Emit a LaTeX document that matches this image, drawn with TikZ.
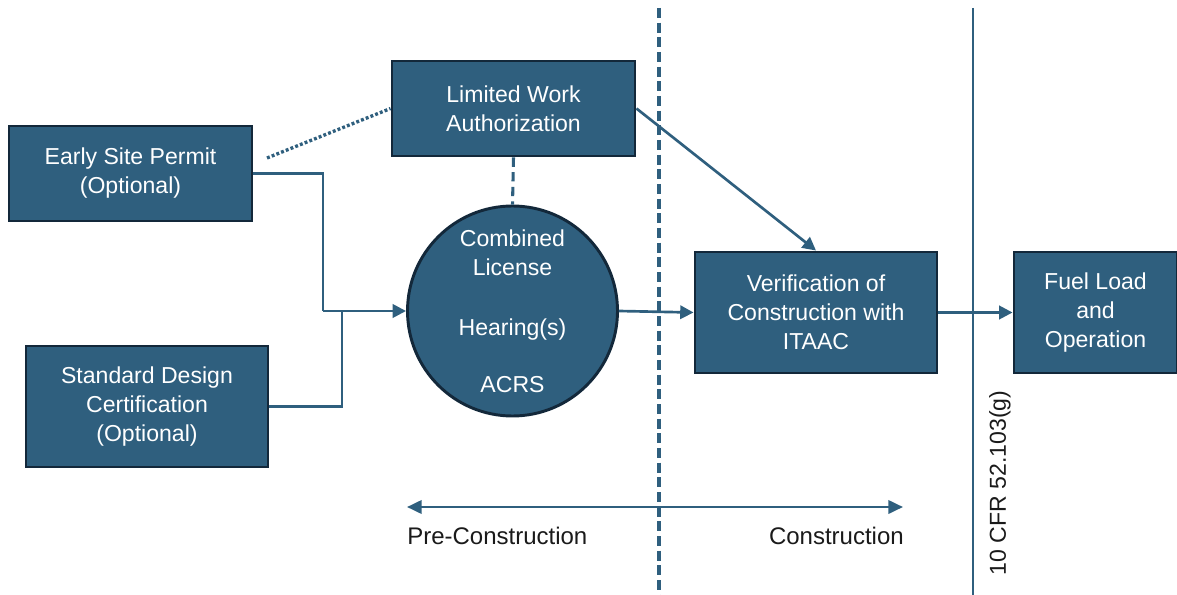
\documentclass[tikz,border=0pt]{standalone}
\usepackage{fontspec}
\setmainfont{Liberation Sans}
\usetikzlibrary{arrows.meta}
\definecolor{boxfill}{HTML}{2F5F7E}
\definecolor{boxline}{HTML}{13283A}
\definecolor{flowcol}{HTML}{2F5F7E}
\definecolor{labcol}{HTML}{1A1A1A}
\begin{document}
\begin{tikzpicture}[x=0.75pt, y=-0.75pt,
		every node/.style={font=\fontsize{17.3}{21.75}\selectfont},
		box/.style={draw=boxline, fill=boxfill, line width=2.2pt, text=white, align=center, inner sep=0pt},
		flow/.style={draw=flowcol, line width=2pt},
		tip/.style={-{Triangle[length=10pt, width=10pt]}}]
		\useasboundingbox (0, 0) rectangle (1177, 595);

		 	\node[box, minimum width=182.25pt, minimum height=71.25pt] (esp) at(130.5, 173.5){Early Site Permit\\(Optional)};
		 	\node[box, minimum width=181.5pt, minimum height=90.75pt] (sdc) at(147, 406.5){Standard Design\\Certification\\(Optional)};
		 	\node[box, minimum width=182.25pt, minimum height=71.25pt] (lwa) at(513.5, 108.5){Limited Work\\Authorization};
		 	\node[box, circle, minimum size=157.5pt] (col) at(512.5, 311){Combined\\License\\[23pt]Hearing(s)\\[21pt]ACRS};
		 	\node[box, minimum width=181.5pt, minimum height=90.75pt] (ver) at(816, 312.5){Verification of\\Construction with\\ITAAC};
		 	\node[box, minimum width=122.25pt, minimum height=90.75pt] (fuel) at(1095.5, 312.5){Fuel Load\\and\\Operation};

			 \draw[flowcol, line width=2.3pt, dash pattern=on 7.5pt off 3.5pt](659, 8) to (659, 595);
			 \draw[flowcol, line width=2.2pt](973, 8) to (973, 595);

			 \coordinate (j1) at(323, 311);
			 \coordinate (j2) at(342, 311);
			 \coordinate (d1) at(267, 158);

				 \draw[flow](esp.east) -| (j1);
				 \draw[flow, tip](j1) to (col.west);
				 \draw[flow](sdc.east) -| (j2);
				 \draw[flowcol, line width=2.5pt, dash pattern=on 2.2pt off 1.6pt](d1) to (lwa.west);
				 \draw[flowcol, line width=2.3pt, dash pattern=on 7pt off 4pt](lwa.south) to (col.north);
				 \draw[flow, tip](lwa.east) to (ver.north);
				 \draw[flow, tip](col.east) to (ver.west);
				 \draw[flow, tip](ver.east) to (fuel.west);

			 \coordinate (pre) at(407, 507);
			 \coordinate (con) at(903, 507);
				 \draw[flow, {Triangle[length=11pt, width=10pt]}-{Triangle[length=11pt, width=10pt]}](pre) to (con);

			 \node[anchor=west, text=labcol, inner sep=0pt, font=\fontsize{18}{21.75}\selectfont] (prelab) at(407, 536){Pre-Construction};
			 \node[anchor=east, text=labcol, inner sep=0pt, font=\fontsize{18}{21.75}\selectfont] (conlab) at(904, 536){Construction};
			 \node[rotate=90, text=labcol, inner sep=0pt] (cfr) at(1000, 483){10 CFR 52.103(g)};

		\end{tikzpicture}
\end{document}
